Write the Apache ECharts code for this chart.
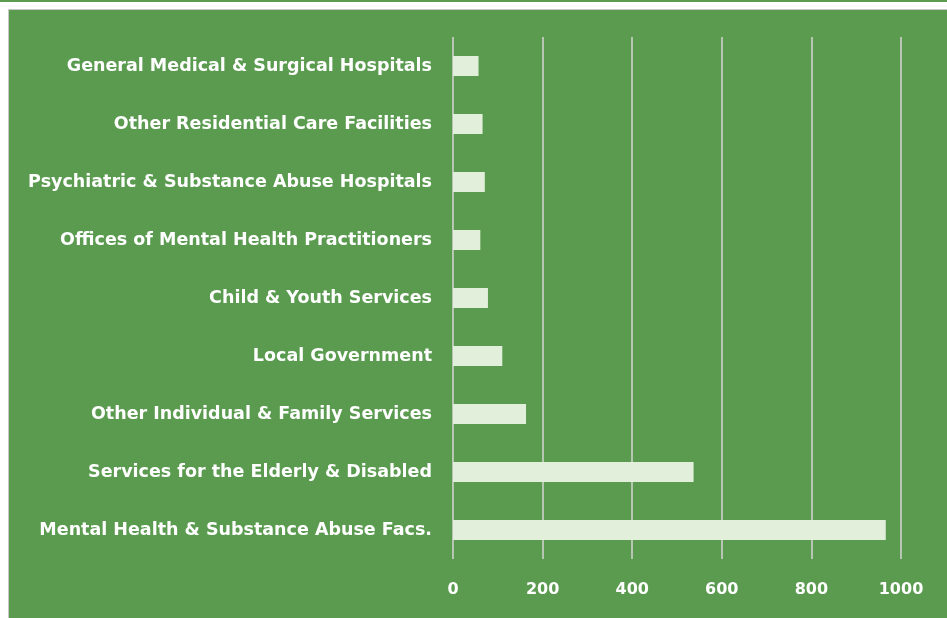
<!DOCTYPE html>
<html>
<head>
<meta charset="utf-8">
<script src="https://cdn.jsdelivr.net/npm/echarts@6/dist/echarts.min.js"></script>
<style>
  html, body { margin: 0; padding: 0; background: #ffffff; width: 947px; height: 618px; overflow: hidden; }
  .topline { position: absolute; left: 0; top: 0; width: 947px; height: 2px; background: #5b9b50; }
  #chart { position: absolute; left: 8px; top: 9px; width: 939px; height: 609px; border-left: 1px solid #c8c8c8; border-top: 1px solid #c8c8c8; box-sizing: border-box; }
</style>
</head>
<body>
<div class="topline"></div>
<div id="chart"></div>
<script>
// categories, bottom to top as drawn on the axis
const categories = [
  "Mental Health & Substance Abuse Facs.",
  "Services for the Elderly & Disabled",
  "Other Individual & Family Services",
  "Local Government",
  "Child & Youth Services",
  "Offices of Mental Health Practitioners",
  "Psychiatric & Substance Abuse Hospitals",
  "Other Residential Care Facilities",
  "General Medical & Surgical Hospitals",
];
const values = [966, 537, 163, 110, 78, 61, 71, 66, 57];
const xTicks = [0, 200, 400, 600, 800, 1000];

const labelFont = {
  color: "#ffffff",
  fontFamily: "DejaVu Sans",
  fontWeight: "bold",
};

const chart = echarts.init(document.getElementById("chart"));

chart.setOption({
  backgroundColor: "#5b9b50",
  animation: false,
  grid: { left: 444, right: 46, top: 27, bottom: 59 },
  xAxis: {
    type: "value",
    min: xTicks[0],
    max: xTicks[xTicks.length - 1],
    interval: 200,
    axisLine: { show: false },
    axisTick: { show: false },
    splitLine: { lineStyle: { color: "#d4d4d4", width: 1.5 } },
    axisLabel: {
      ...labelFont,
      fontSize: 16,
      margin: 23,
      formatter: (v) => String(v),
    },
  },
  yAxis: {
    type: "category",
    data: categories,
    axisLine: { show: false },
    axisTick: { show: false },
    axisLabel: {
      ...labelFont,
      fontSize: 17.5,
      margin: 21,
    },
  },
  series: [
    {
      type: "bar",
      data: values,
      barWidth: 20,
      itemStyle: { color: "#e2efda" },
    },
  ],
});
</script>
</body>
</html>
